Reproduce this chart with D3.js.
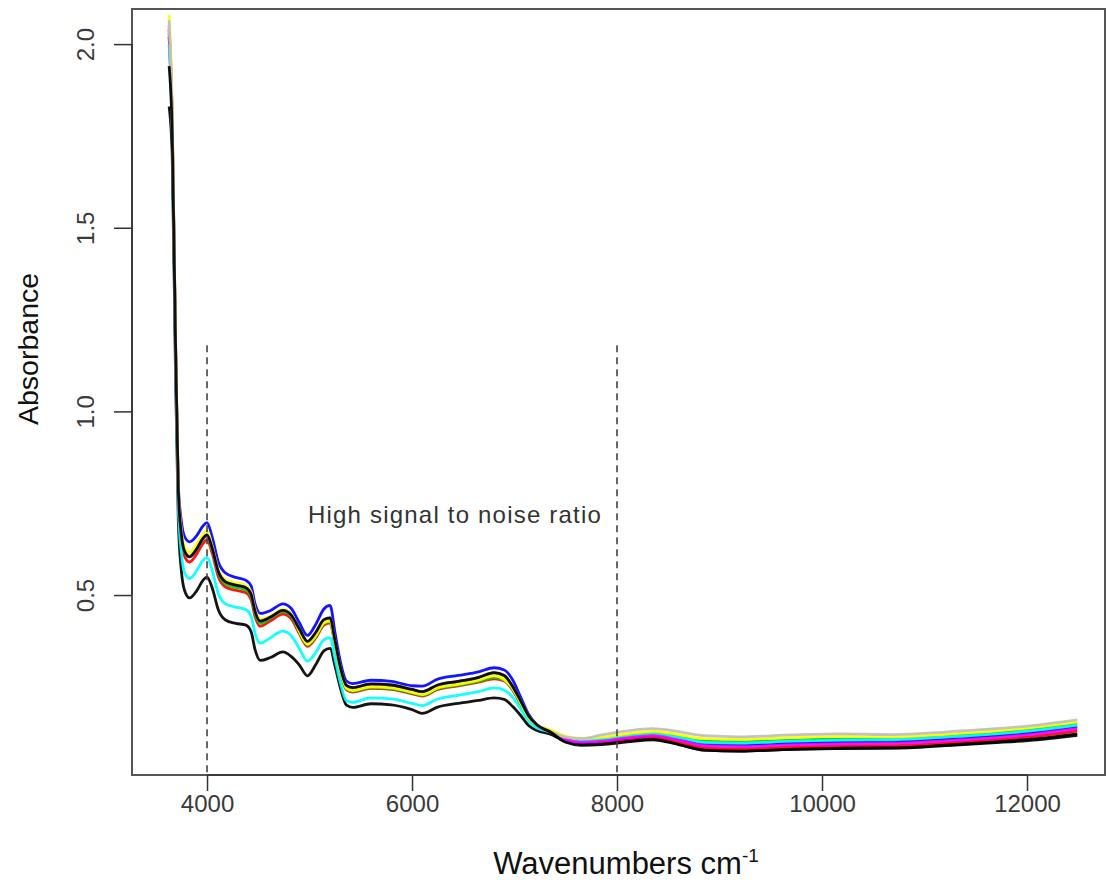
<!DOCTYPE html>
<html>
<head>
<meta charset="utf-8">
<script src="https://cdn.jsdelivr.net/npm/d3@7"></script>
<style>
  html, body { margin: 0; padding: 0; background: #fff; }
  svg { display: block; }
  .tick-label { font-family: "Liberation Sans Narrow", "Arial Narrow", "Liberation Sans", sans-serif; fill: #3a3a3a; }
  .axis-title { font-family: "Liberation Sans", Arial, sans-serif; fill: #111; }
</style>
</head>
<body>
<svg id="chart" width="1107" height="883"></svg>
<script>
// Wavenumber grid (cm-1) shared by all spectra
const wavenumbers = [3630, 3660, 3690, 3720, 3750, 3780, 3830, 3900, 3960, 4000,
  4050, 4110, 4180, 4280, 4380, 4430, 4470, 4520, 4620, 4740,
  4820, 4900, 4980, 5060, 5140, 5200, 5250, 5300, 5360, 5420,
  5600, 5800, 6000, 6100, 6250, 6450, 6650, 6800, 6900, 6980,
  7060, 7140, 7220, 7350, 7500, 7650, 7850, 8100, 8350, 8600,
  8850, 9200, 9700, 10200, 10700, 11200, 11700, 12100, 12490];

// Absorbance spectra, one array per sample
const black1 = [1.830, 1.700, 1.150, 0.700, 0.565, 0.513, 0.492, 0.512, 0.540, 0.549,
  0.520, 0.460, 0.432, 0.423, 0.418, 0.400, 0.350, 0.322, 0.330, 0.345,
  0.333, 0.310, 0.280, 0.310, 0.348, 0.355, 0.305, 0.248, 0.200, 0.194,
  0.204, 0.201, 0.188, 0.178, 0.195, 0.205, 0.213, 0.220, 0.216, 0.197,
  0.172, 0.144, 0.131, 0.121, 0.101, 0.094, 0.097, 0.104, 0.108, 0.094,
  0.078, 0.075, 0.080, 0.082, 0.083, 0.090, 0.098, 0.106, 0.118];
const red = [2.040, 1.793, 1.222, 0.772, 0.650, 0.606, 0.590, 0.612, 0.640, 0.650,
  0.614, 0.550, 0.522, 0.513, 0.506, 0.488, 0.440, 0.415, 0.430, 0.448,
  0.436, 0.395, 0.360, 0.383, 0.418, 0.424, 0.360, 0.293, 0.242, 0.236,
  0.246, 0.243, 0.231, 0.225, 0.243, 0.253, 0.263, 0.272, 0.266, 0.242,
  0.202, 0.162, 0.141, 0.127, 0.105, 0.097, 0.100, 0.108, 0.113, 0.100,
  0.084, 0.081, 0.086, 0.089, 0.090, 0.097, 0.106, 0.116, 0.130];
const green = [2.030, 1.790, 1.230, 0.780, 0.665, 0.620, 0.605, 0.625, 0.652, 0.662,
  0.624, 0.560, 0.530, 0.521, 0.514, 0.496, 0.448, 0.423, 0.437, 0.455,
  0.443, 0.399, 0.364, 0.387, 0.422, 0.428, 0.364, 0.296, 0.244, 0.238,
  0.248, 0.245, 0.233, 0.227, 0.245, 0.255, 0.265, 0.275, 0.268, 0.244,
  0.204, 0.164, 0.143, 0.130, 0.110, 0.104, 0.108, 0.117, 0.124, 0.114,
  0.102, 0.100, 0.105, 0.108, 0.108, 0.115, 0.125, 0.136, 0.150];
const blue = [2.020, 1.780, 1.240, 0.800, 0.700, 0.660, 0.645, 0.662, 0.688, 0.697,
  0.658, 0.590, 0.560, 0.548, 0.540, 0.525, 0.475, 0.450, 0.458, 0.476,
  0.464, 0.425, 0.390, 0.420, 0.462, 0.472, 0.395, 0.320, 0.266, 0.259,
  0.268, 0.265, 0.253, 0.252, 0.271, 0.281, 0.291, 0.302, 0.296, 0.270,
  0.222, 0.174, 0.147, 0.130, 0.106, 0.098, 0.102, 0.111, 0.118, 0.108,
  0.094, 0.092, 0.097, 0.100, 0.101, 0.108, 0.117, 0.127, 0.141];
const cyan = [2.000, 1.760, 1.200, 0.740, 0.615, 0.562, 0.545, 0.567, 0.594, 0.602,
  0.568, 0.504, 0.476, 0.467, 0.460, 0.442, 0.394, 0.369, 0.384, 0.402,
  0.390, 0.355, 0.320, 0.343, 0.378, 0.384, 0.325, 0.262, 0.212, 0.208,
  0.220, 0.217, 0.205, 0.199, 0.217, 0.227, 0.237, 0.247, 0.241, 0.222,
  0.190, 0.156, 0.138, 0.127, 0.109, 0.103, 0.106, 0.115, 0.121, 0.112,
  0.099, 0.097, 0.102, 0.105, 0.106, 0.113, 0.122, 0.132, 0.146];
const magenta = [2.050, 1.800, 1.230, 0.780, 0.664, 0.620, 0.604, 0.626, 0.654, 0.664,
  0.628, 0.564, 0.536, 0.527, 0.520, 0.502, 0.454, 0.429, 0.440, 0.458,
  0.446, 0.407, 0.373, 0.397, 0.432, 0.437, 0.373, 0.304, 0.253, 0.247,
  0.257, 0.254, 0.242, 0.236, 0.254, 0.264, 0.275, 0.288, 0.280, 0.251,
  0.211, 0.169, 0.145, 0.129, 0.107, 0.099, 0.102, 0.111, 0.117, 0.105,
  0.090, 0.087, 0.092, 0.095, 0.096, 0.103, 0.112, 0.122, 0.136];
const yellow = [2.080, 1.820, 1.250, 0.790, 0.676, 0.632, 0.616, 0.638, 0.666, 0.676,
  0.634, 0.570, 0.542, 0.533, 0.526, 0.508, 0.460, 0.435, 0.443, 0.461,
  0.449, 0.402, 0.366, 0.389, 0.424, 0.430, 0.366, 0.297, 0.246, 0.240,
  0.250, 0.247, 0.235, 0.229, 0.247, 0.257, 0.268, 0.280, 0.270, 0.246,
  0.206, 0.166, 0.145, 0.133, 0.115, 0.109, 0.113, 0.122, 0.129, 0.120,
  0.109, 0.107, 0.112, 0.115, 0.114, 0.121, 0.130, 0.141, 0.155];
const gray = [2.065, 1.810, 1.240, 0.785, 0.664, 0.620, 0.604, 0.626, 0.654, 0.664,
  0.628, 0.564, 0.536, 0.527, 0.520, 0.502, 0.454, 0.429, 0.440, 0.458,
  0.446, 0.408, 0.374, 0.398, 0.433, 0.438, 0.374, 0.305, 0.254, 0.248,
  0.258, 0.255, 0.243, 0.237, 0.255, 0.265, 0.276, 0.289, 0.281, 0.252,
  0.212, 0.170, 0.146, 0.128, 0.113, 0.109, 0.119, 0.130, 0.136, 0.128,
  0.117, 0.114, 0.119, 0.122, 0.120, 0.127, 0.136, 0.146, 0.160];
const black2 = [1.940, 1.760, 1.230, 0.785, 0.664, 0.620, 0.604, 0.626, 0.654, 0.664,
  0.628, 0.564, 0.536, 0.527, 0.520, 0.502, 0.454, 0.429, 0.440, 0.458,
  0.446, 0.408, 0.374, 0.398, 0.433, 0.438, 0.374, 0.305, 0.254, 0.248,
  0.258, 0.255, 0.243, 0.237, 0.255, 0.265, 0.276, 0.289, 0.281, 0.252,
  0.212, 0.170, 0.146, 0.127, 0.099, 0.091, 0.093, 0.100, 0.106, 0.093,
  0.078, 0.075, 0.080, 0.083, 0.084, 0.091, 0.100, 0.109, 0.122];

// Drawing order and colours (R default palette order)
const seriesList = [
  { name: "s1", values: black1, color: "#000000" },
  { name: "s2", values: red, color: "#ff0000" },
  { name: "s3", values: green, color: "#00cd00" },
  { name: "s4", values: blue, color: "#0000ff" },
  { name: "s5", values: cyan, color: "#00ffff" },
  { name: "s6", values: magenta, color: "#ff00ff" },
  { name: "s7", values: yellow, color: "#ffff00" },
  { name: "s8", values: gray, color: "#bebebe" },
  { name: "s9", values: black2, color: "#000000" }
];

const xTicks = [4000, 6000, 8000, 10000, 12000];
const yTicks = [0.5, 1.0, 1.5, 2.0];
const regionBounds = [4000, 8000];
const regionTop = 1.18;
const annotation = { text: "High signal to noise ratio", x: 4985, y: 0.696 };

const svg = d3.select("#chart");
const plot = { left: 132, top: 9, right: 1105, bottom: 775 };

const x = d3.scaleLinear().domain([3268, 12761]).range([plot.left, plot.right]);
const y = d3.scaleLinear().domain([0.010, 2.0956]).range([plot.bottom, plot.top]);

svg.append("defs").append("clipPath").attr("id", "plot-clip")
  .append("rect")
  .attr("x", plot.left).attr("y", plot.top)
  .attr("width", plot.right - plot.left).attr("height", plot.bottom - plot.top);

// Spectra
const line = d3.line()
  .x((d, i) => x(wavenumbers[i]))
  .y(d => y(d))
  .curve(d3.curveMonotoneX);

svg.append("g").attr("clip-path", "url(#plot-clip)")
  .selectAll("path")
  .data(seriesList)
  .join("path")
  .attr("d", d => line(d.values))
  .attr("fill", "none")
  .attr("stroke", d => d.color)
  .attr("stroke-width", 2.8)
  .attr("stroke-linejoin", "round")
  .attr("opacity", 0.92);

// Region markers
svg.append("g").selectAll("line")
  .data(regionBounds)
  .join("line")
  .attr("x1", d => x(d)).attr("x2", d => x(d))
  .attr("y1", y(regionTop)).attr("y2", plot.bottom)
  .attr("stroke", "#444")
  .attr("stroke-width", 1.6)
  .attr("stroke-dasharray", "7,5");

svg.append("text")
  .attr("x", x(annotation.x)).attr("y", y(annotation.y))
  .attr("font-family", "Liberation Sans, Arial, sans-serif")
  .attr("font-size", 24)
  .attr("letter-spacing", 1.2)
  .attr("fill", "#333")
  .text(annotation.text);

// Plot frame
svg.append("rect")
  .attr("x", plot.left).attr("y", plot.top)
  .attr("width", plot.right - plot.left).attr("height", plot.bottom - plot.top)
  .attr("fill", "none").attr("stroke", "#555").attr("stroke-width", 2);

// X axis
const xAxis = d3.axisBottom(x).tickValues(xTicks).tickSize(16).tickSizeOuter(0).tickPadding(4)
  .tickFormat(d3.format("d"));
const gx = svg.append("g").attr("transform", `translate(0,${plot.bottom})`).call(xAxis);
gx.select(".domain").attr("d", `M${x(xTicks[0])},0H${x(xTicks[xTicks.length - 1])}`)
  .attr("stroke", "#333").attr("stroke-width", 1.5);
gx.selectAll(".tick line").attr("stroke", "#333").attr("stroke-width", 1.5);
gx.selectAll(".tick text").attr("class", "tick-label").attr("font-size", 24).attr("fill", "#3a3a3a");

// Y axis (labels rotated, R style)
const yAxis = d3.axisLeft(y).tickValues(yTicks).tickSize(18).tickSizeOuter(0).tickFormat(d3.format(".1f"));
const gy = svg.append("g").attr("transform", `translate(${plot.left},0)`).call(yAxis);
gy.select(".domain").attr("d", `M0,${y(yTicks[0])}V${y(yTicks[yTicks.length - 1])}`)
  .attr("stroke", "#333").attr("stroke-width", 1.5);
gy.selectAll(".tick line").attr("stroke", "#333").attr("stroke-width", 1.5);
gy.selectAll(".tick text")
  .attr("class", "tick-label")
  .attr("font-size", 24)
  .attr("fill", "#3a3a3a")
  .attr("x", null).attr("dy", null)
  .attr("text-anchor", "middle")
  .attr("transform", "translate(-46,0) rotate(-90)")
  .attr("y", 8);

// Axis titles
const xt = svg.append("text").attr("class", "axis-title")
  .attr("x", x(8000) + 9).attr("y", 874)
  .attr("text-anchor", "middle").attr("font-size", 31);
xt.append("tspan").text("Wavenumbers cm");
xt.append("tspan").attr("dy", -12).attr("font-size", 19).text("-1");

svg.append("text").attr("class", "axis-title")
  .attr("transform", `translate(38,${y(1.17)}) rotate(-90)`)
  .attr("text-anchor", "middle").attr("font-size", 28.5)
  .text("Absorbance");
</script>
</body>
</html>
